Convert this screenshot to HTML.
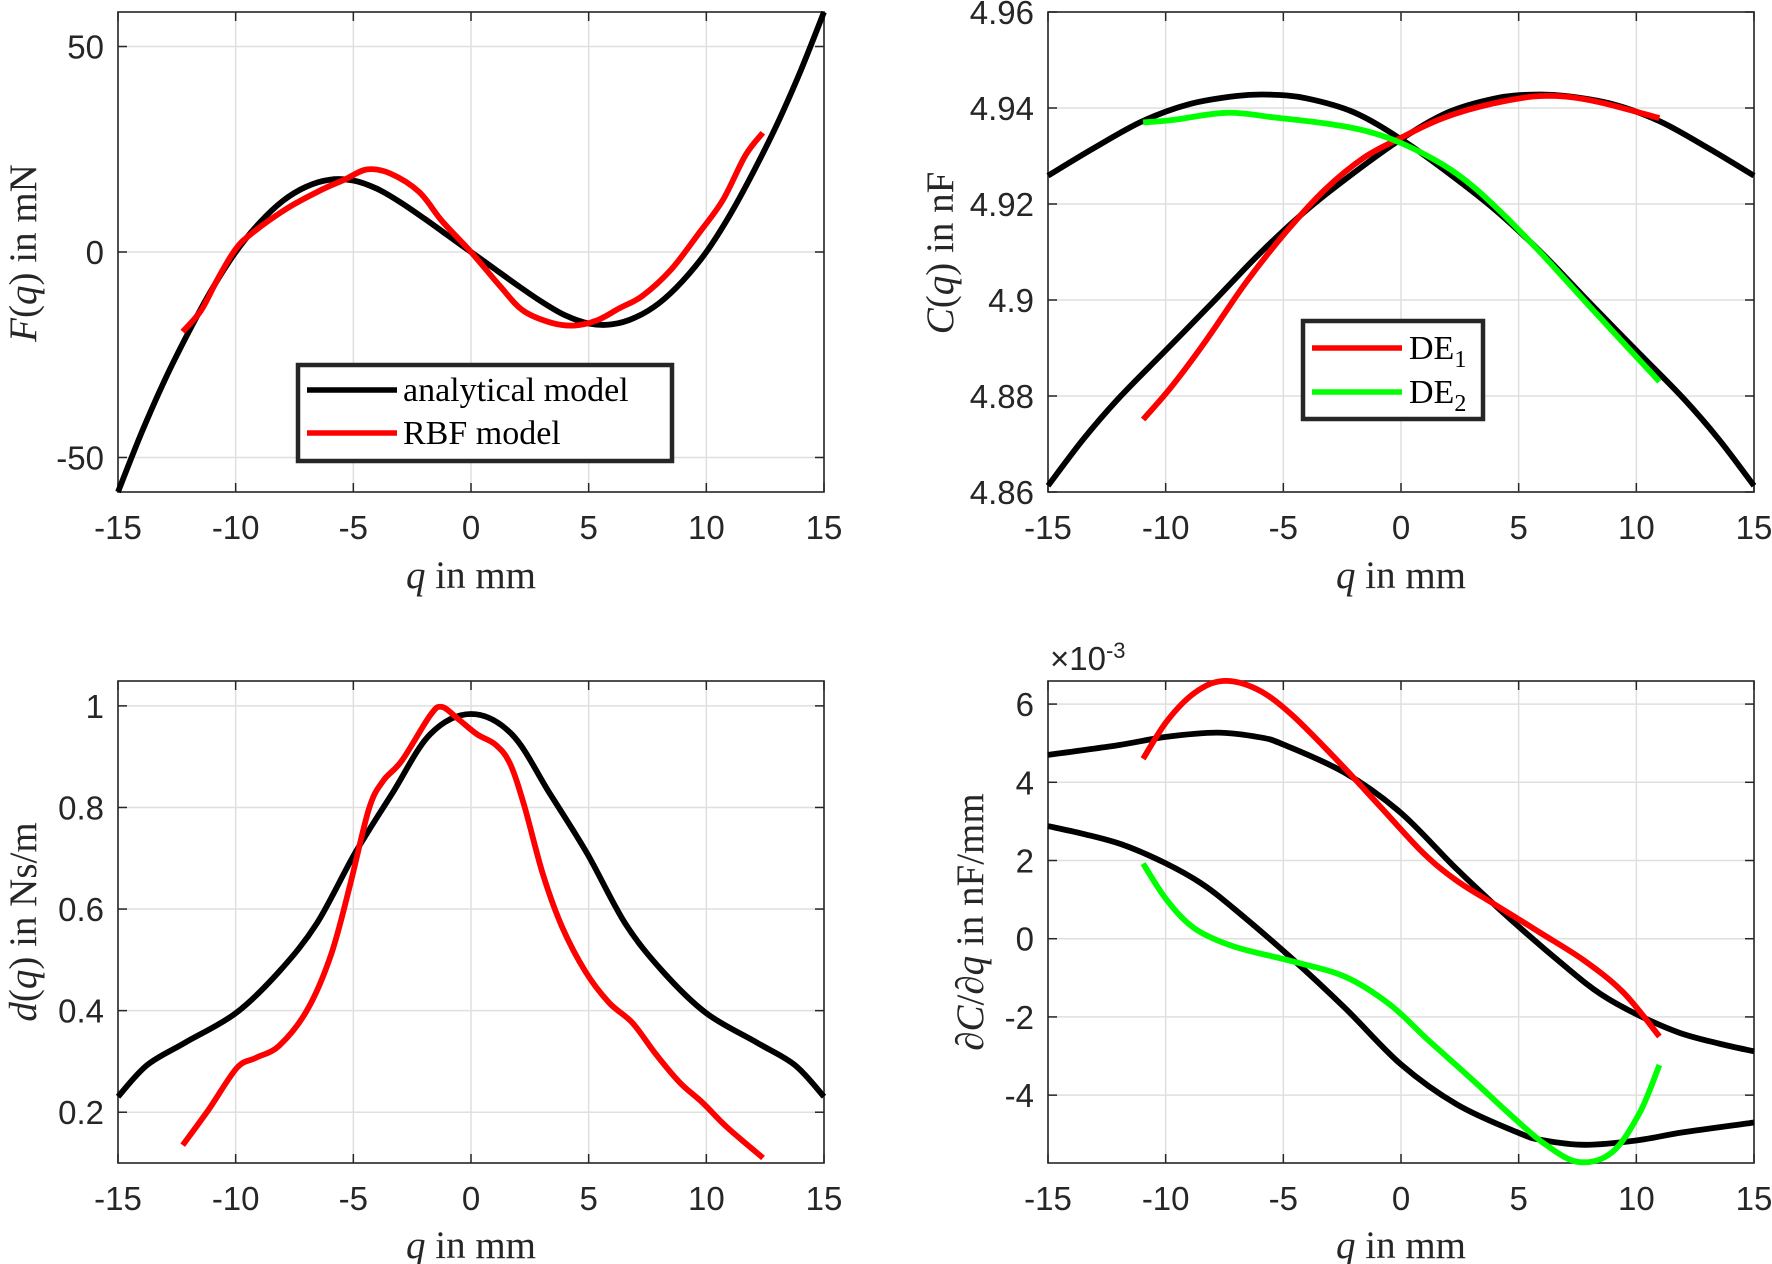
<!DOCTYPE html>
<html><head><meta charset="utf-8">
<style>
html,body{margin:0;padding:0;background:#fff;}
svg{display:block;}
.tick{font-family:"Liberation Sans",Arial,sans-serif;font-size:33px;fill:#262626;}
.lab{font-family:"Liberation Serif","DejaVu Serif",serif;font-size:39px;fill:#262626;}
.leg{font-family:"Liberation Serif","DejaVu Serif",serif;font-size:34px;fill:#000;}
</style></head>
<body>
<svg id="fig" width="1772" height="1264" viewBox="0 0 1772 1264" xmlns="http://www.w3.org/2000/svg"></svg>
<script>
// ---- Panel 1: F(q) ----
const fBlackQ = [-15,-14,-13,-12,-11,-10,-9,-8,-7,-6,-5,-4,-3,-2,-1,0,1,2,3,4,5,6,7,8,9,10,11,12,13,14,15];
const fBlackV = [-58.4,-44,-31,-19.5,-9,0,7,12.4,15.9,17.6,17.4,15.4,12.1,8.2,4.1,0,-4.1,-8.2,-12.1,-15.4,-17.4,-17.6,-15.9,-12.4,-7,0,9,19.5,31,44,58.4];
const fRedQ = [-12.25,-11.47,-10.74,-10,-9.28,-7.82,-6.36,-5.38,-4.41,-3.43,-2.2,-1.24,0,1.22,2.2,3.4,4.36,5.33,6.3,7.28,8.5,9.7,10.7,11.66,12.4];
const fRedV = [-19.4,-14.2,-6.3,0.7,4.7,10.6,15.1,17.6,20.1,19.1,14.6,7.6,0,-8.2,-14.2,-17.2,-17.9,-16.7,-13.7,-10.7,-4.3,4.7,12.6,23.5,29];
// ---- Panel 2: C(q) ----
const cAQ = [-15,-13,-11,-9,-7,-5.6,-4,-2,0,2,4,6,8,10,12,13.5,15];
const cAV = [4.9259,4.9318,4.9372,4.9408,4.9425,4.9428,4.9420,4.9391,4.9335,4.9265,4.9188,4.9097,4.8995,4.8895,4.8795,4.8710,4.8613];
const cBQ = [-15,-13.5,-12,-10,-8,-6,-4,-2,0,2,4,5.6,7,9,11,13,15];
const cBV = [4.8613,4.8710,4.8795,4.8895,4.8995,4.9097,4.9188,4.9265,4.9335,4.9391,4.9420,4.9428,4.9425,4.9408,4.9372,4.9318,4.9259];
const de1Q = [-10.96,-9.71,-8.25,-6.58,-4.9,-3.23,-1.56,0,1.78,3.87,5.96,8.05,10.98];
const de1V = [4.8751,4.8822,4.8918,4.9037,4.9141,4.9230,4.9297,4.9338,4.9379,4.9409,4.9425,4.9416,4.9379];
const de2Q = [-10.96,-9.71,-7.41,-5.32,-3.23,-1.56,0,1.78,3.03,4.5,5.96,8.05,10.98];
const de2V = [4.9370,4.9375,4.939,4.938,4.9368,4.9353,4.9327,4.9282,4.9238,4.9171,4.9097,4.8985,4.883];
// ---- Panel 3: d(q) ----
const dBlackQ = [-15,-13.76,-12.15,-10,-8.15,-6.55,-4.94,-3.34,-1.74,0,1.74,3.34,4.94,6.55,8.15,10,12.15,13.76,15];
const dBlackV = [0.2306,0.293,0.337,0.395,0.477,0.572,0.709,0.828,0.944,0.984,0.944,0.828,0.709,0.572,0.477,0.395,0.337,0.293,0.2306];
const dRedQ = [-12.25,-11.15,-9.95,-9.15,-8.15,-6.95,-5.94,-5.14,-4.34,-3.74,-2.94,-1.74,-1.24,-0.54,0.26,1.06,1.66,2.26,3.06,3.86,4.86,5.86,6.86,7.86,8.86,9.86,10.86,12.41];
const dRedV = [0.135,0.205,0.287,0.307,0.331,0.402,0.511,0.647,0.797,0.852,0.892,0.981,0.998,0.974,0.944,0.923,0.886,0.804,0.668,0.566,0.477,0.416,0.376,0.314,0.259,0.218,0.171,0.110];
// ---- Panel 4: dC/dq (x1e-3) ----
const gUQ = [-15,-12,-9.99,-7.81,-6,-4.98,-2.38,-0.01,2.35,4.72,7.08,8.5,10.04,11.81,13.5,15];
const gUV = [4.70,4.95,5.16,5.27,5.15,4.96,4.24,3.22,1.79,0.46,-0.76,-1.42,-1.94,-2.40,-2.68,-2.88];
const gLQ = [-15,-13.5,-11.81,-10.04,-8.5,-7.08,-4.72,-2.35,0.01,2.38,4.98,6,7.81,9.99,12,15];
const gLV = [2.88,2.68,2.40,1.94,1.42,0.76,-0.46,-1.79,-3.22,-4.24,-4.96,-5.15,-5.27,-5.16,-4.95,-4.70];
const g1Q = [-10.96,-9.94,-8.76,-7.58,-6.16,-4.74,-2.85,-0.96,0.93,2.35,4.0,5.9,7.79,9.44,10.98];
const g1V = [4.60,5.57,6.29,6.59,6.39,5.78,4.65,3.43,2.2,1.49,0.87,0.16,-0.56,-1.37,-2.5];
const g2Q = [-10.96,-9.94,-8.76,-7.1,-4.74,-2.38,-0.48,1.17,3.06,4.72,6.13,7.55,8.97,10.15,10.98];
const g2V = [1.92,0.98,0.26,-0.2,-0.56,-0.97,-1.68,-2.6,-3.62,-4.54,-5.26,-5.71,-5.46,-4.44,-3.23];

const xTicks = [-15,-10,-5,0,5,10,15];
const xTickLabels = ["-15","-10","-5","0","5","10","15"];
const fTicks = [-50,0,50];
const fTickLabels = ["-50","0","50"];
const cTicks = [4.86,4.88,4.9,4.92,4.94,4.96];
const cTickLabels = ["4.86","4.88","4.9","4.92","4.94","4.96"];
const dTicks = [0.2,0.4,0.6,0.8,1];
const dTickLabels = ["0.2","0.4","0.6","0.8","1"];
const gTicks = [-4,-2,0,2,4,6];
const gTickLabels = ["-4","-2","0","2","4","6"];

const NS="http://www.w3.org/2000/svg";
const svg=document.getElementById('fig');
function mk(tag,attrs,parent){const e=document.createElementNS(NS,tag);for(const k in attrs)e.setAttribute(k,attrs[k]);(parent||svg).appendChild(e);return e;}

function panel(name,L,R,T,B,ymin,ymax,yt,ytl){
  const g=mk('g',{});
  
  
  const sx=v=>L+(v+15)/30*(R-L);
  const sy=v=>B-(v-ymin)/(ymax-ymin)*(B-T);
  xTicks.forEach((t,i)=>{
    const x=sx(t);
    const gl=mk('line',{x1:x,x2:x,y1:T,y2:B,stroke:'#dfdfdf','stroke-width':1.5},g);
    
    
    mk('line',{x1:x,x2:x,y1:B,y2:B-9,stroke:'#262626','stroke-width':1.5},g);
    mk('line',{x1:x,x2:x,y1:T,y2:T+9,stroke:'#262626','stroke-width':1.5},g);
    const tx=mk('text',{x:x,y:B+47,'text-anchor':'middle',class:'tick'},g);
    tx.textContent=xTickLabels[i];
    
    
  });
  yt.forEach((t,i)=>{
    const y=sy(t);
    const gl=mk('line',{x1:L,x2:R,y1:y,y2:y,stroke:'#dfdfdf','stroke-width':1.5},g);
    
    
    mk('line',{x1:L,x2:L+9,y1:y,y2:y,stroke:'#262626','stroke-width':1.5},g);
    mk('line',{x1:R,x2:R-9,y1:y,y2:y,stroke:'#262626','stroke-width':1.5},g);
    const tx=mk('text',{x:L-14,y:y+12,'text-anchor':'end',class:'tick'},g);
    tx.textContent=ytl[i];
    
    
  });
  const box=mk('rect',{x:L,y:T,width:R-L,height:B-T,fill:'none',stroke:'#262626','stroke-width':1.6},g);
  
  
  const clip='c'+name;
  const cp=mk('clipPath',{id:clip},g);
  mk('rect',{x:L-3,y:T-3,width:R-L+6,height:B-T+6},cp);
  return {g,sx,sy,clip};
}
function curve(p,xs,ys,color,name){
  const pts=xs.map((x,i)=>[p.sx(x),p.sy(ys[i])]);
  let d='M'+pts[0][0].toFixed(1)+','+pts[0][1].toFixed(1);
  for(let i=0;i<pts.length-1;i++){
    const p0=pts[Math.max(0,i-1)],p1=pts[i],p2=pts[i+1],p3=pts[Math.min(pts.length-1,i+2)];
    const c1=[p1[0]+(p2[0]-p0[0])/6,p1[1]+(p2[1]-p0[1])/6];
    const c2=[p2[0]-(p3[0]-p1[0])/6,p2[1]-(p3[1]-p1[1])/6];
    d+=' C'+c1[0].toFixed(1)+','+c1[1].toFixed(1)+' '+c2[0].toFixed(1)+','+c2[1].toFixed(1)+' '+p2[0].toFixed(1)+','+p2[1].toFixed(1);
  }
  const el=mk('path',{d:d,fill:'none',stroke:color,'stroke-width':5.8,'stroke-linejoin':'round','clip-path':'url(#'+p.clip+')'},p.g);
  
  
}
function text(str,x,y,cls,rot,name){
  const t=mk('text',{x:x,y:y,class:cls,'text-anchor':'middle'});
  if(rot)t.setAttribute('transform','rotate(-90 '+x+' '+y+')');
  t.innerHTML=str;
  
  
  return t;
}

const p1=panel('panel-force',118,824,12,492,-58.4,58.4,fTicks,fTickLabels);
curve(p1,fBlackQ,fBlackV,'#000','force-analytical-line');
curve(p1,fRedQ,fRedV,'#ff0000','force-rbf-line');
const p2=panel('panel-capacitance',1048,1754,12,492,4.86,4.96,cTicks,cTickLabels);
curve(p2,cAQ,cAV,'#000','capacitance-analytical-1');
curve(p2,cBQ,cBV,'#000','capacitance-analytical-2');
curve(p2,de1Q,de1V,'#ff0000','capacitance-de1-line');
curve(p2,de2Q,de2V,'#00ff00','capacitance-de2-line');
const p3=panel('panel-damping',118,824,681,1163,0.1,1.049,dTicks,dTickLabels);
curve(p3,dBlackQ,dBlackV,'#000','damping-analytical-line');
curve(p3,dRedQ,dRedV,'#ff0000','damping-rbf-line');
const p4=panel('panel-derivative',1048,1754,681,1163,-5.735,6.59,gTicks,gTickLabels);
curve(p4,gUQ,gUV,'#000','derivative-analytical-1');
curve(p4,gLQ,gLV,'#000','derivative-analytical-2');
curve(p4,g1Q,g1V,'#ff0000','derivative-de1-line');
curve(p4,g2Q,g2V,'#00ff00','derivative-de2-line');

// labels
text('<tspan font-style="italic">q</tspan> in mm',471,588,'lab',false,'x-axis-title-force');
text('<tspan font-style="italic">q</tspan> in mm',1401,588,'lab',false,'x-axis-title-capacitance');
text('<tspan font-style="italic">q</tspan> in mm',471,1258,'lab',false,'x-axis-title-damping');
text('<tspan font-style="italic">q</tspan> in mm',1401,1258,'lab',false,'x-axis-title-derivative');
text('<tspan font-style="italic">F</tspan>(<tspan font-style="italic">q</tspan>) in mN',36,253,'lab',true,'y-axis-title-force');
text('<tspan font-style="italic">C</tspan>(<tspan font-style="italic">q</tspan>) in nF',953,253,'lab',true,'y-axis-title-capacitance');
text('<tspan font-style="italic">d</tspan>(<tspan font-style="italic">q</tspan>) in Ns/m',36,922,'lab',true,'y-axis-title-damping');
text('∂<tspan font-style="italic">C</tspan>/∂<tspan font-style="italic">q</tspan> in nF/mm',983,922,'lab',true,'y-axis-title-derivative');
const ex=mk('text',{x:1050,y:670,class:'tick','font-size':'30'});
ex.innerHTML='×10<tspan dy="-12" font-size="22">-3</tspan>';



// legends
function legend(name,x,y,w,h,items){
  const g=mk('g',{});
  
  
  mk('rect',{x:x,y:y,width:w,height:h,fill:'#fff',stroke:'#262626','stroke-width':4.5},g);
  items.forEach(it=>{
    const ln=mk('line',{x1:it.lx1,x2:it.lx2,y1:it.y,y2:it.y,stroke:it.c,'stroke-width':5.5},g);
    
    
    const t=mk('text',{x:it.tx,y:it.y+11,class:'leg'},g);
    t.innerHTML=it.t;
    
    
  });
}
legend('legend-force',298,365,374,96,[
  {lx1:307,lx2:397,y:390,c:'#000',tx:403,t:'analytical model'},
  {lx1:307,lx2:397,y:433,c:'#ff0000',tx:403,t:'RBF model'}]);
legend('legend-capacitance',1303,321,180,98,[
  {lx1:1312,lx2:1402,y:348,c:'#ff0000',tx:1409,t:'DE<tspan dy="8" font-size="24">1</tspan>'},
  {lx1:1312,lx2:1402,y:392,c:'#00ff00',tx:1409,t:'DE<tspan dy="8" font-size="24">2</tspan>'}]);
</script>
</body></html>
